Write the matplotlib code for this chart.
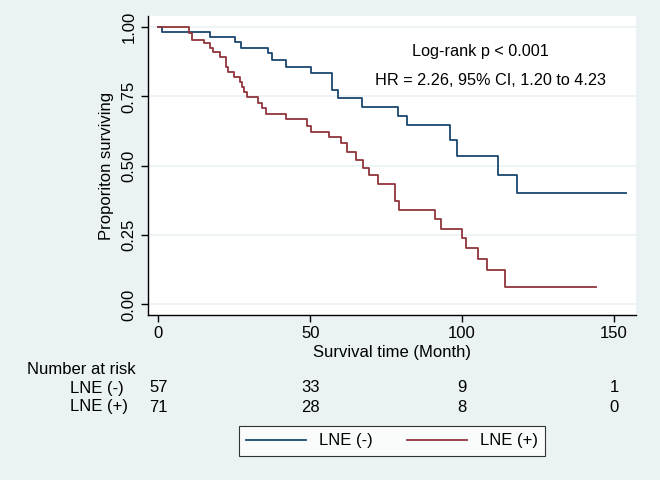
import numpy as np
import matplotlib
matplotlib.use("Agg")
import matplotlib.pyplot as plt

plt.rcParams['font.family'] = ['Liberation Sans', 'DejaVu Sans']

# ----Kaplan-Meier steps----
t_neg = [0, 1.2, 17.0, 25.3, 27.2, 36.2, 37.3, 42.1, 50.2, 57.1, 59.3, 67.0,
         79.0, 81.8, 96.0, 98.2, 111.9, 118.0, 153.9]
s_neg = [1.0, 0.982, 0.965, 0.945, 0.926, 0.905, 0.881, 0.857, 0.833, 0.773,
         0.746, 0.713, 0.680, 0.647, 0.594, 0.536, 0.468, 0.402, 0.402]

t_pos = [0, 10.1, 11.0, 15.2, 17.0, 18.1, 20.3, 22.3, 23.1, 25.0, 26.9, 27.5,
         28.3, 29.1, 32.9, 34.1, 35.4, 42.0, 48.9, 50.3, 56.2, 60.2, 62.0,
         65.2, 67.3, 69.3, 72.2, 78.0, 79.1, 91.1, 93.1, 100.1, 101.2, 105.1,
         108.1, 114.1, 144.0]
s_pos = [1.0, 0.977, 0.955, 0.941, 0.926, 0.909, 0.891, 0.857, 0.839, 0.821,
         0.803, 0.783, 0.767, 0.747, 0.728, 0.707, 0.688, 0.669, 0.645, 0.623,
         0.603, 0.582, 0.551, 0.522, 0.491, 0.465, 0.435, 0.374, 0.342, 0.309,
         0.273, 0.240, 0.205, 0.165, 0.123, 0.063, 0.063]

risk_times = [0, 50, 100, 150]
risk_neg = [57, 33, 9, 1]
risk_pos = [71, 28, 8, 0]

bg = "#eaf2f3"
blue = "#1a476f"
red = "#90353b"
fs = 12

fig = plt.figure(figsize=(6.6, 4.8), dpi=100, facecolor=bg)
ax = fig.add_axes([0.2242, 0.3438, 0.740, 0.6229])
ax.set_facecolor("white")

ax.step(t_neg, s_neg, where="post", color=blue, lw=1.3, label="LNE (-)")
ax.step(t_pos, s_pos, where="post", color=red, lw=1.3, label="LNE (+)")

ax.set_xlim(-3.4, 157.4)
ax.set_ylim(-0.038, 1.04)
ax.set_xticks([0, 50, 100, 150])
ax.set_yticks([0, 0.25, 0.5, 0.75, 1.0])
ax.set_yticklabels(["0.00", "0.25", "0.50", "0.75", "1.00"], rotation=90, va="center")
ax.grid(axis="y", color=bg, lw=1.2)
ax.set_axisbelow(True)
for side in ["top", "right"]:
    ax.spines[side].set_visible(False)
for side in ["left", "bottom"]:
    ax.spines[side].set_color("black")
    ax.spines[side].set_linewidth(1.0)
ax.tick_params(labelsize=fs, length=5, width=1, direction="out", pad=3)

ax.set_xlabel("Survival time (Month)", fontsize=fs, labelpad=3)
ax.set_ylabel("Proporiton surviving", fontsize=fs, labelpad=6)

ax.text(0.681, 0.88, "Log-rank p < 0.001", transform=ax.transAxes,
        ha="center", va="center", fontsize=11.7)
ax.text(0.701, 0.785, "HR = 2.26, 95% CI, 1.20 to 4.23", transform=ax.transAxes,
        ha="center", va="center", fontsize=11.7)

# ----Number at risk table----
trans = ax.get_xaxis_transform()
fig.text(27 / 660, 1 - 370 / 480, "Number at risk", fontsize=fs, va="center")
fig.text(124 / 660, 1 - 388 / 480, "LNE (-)", fontsize=fs, va="center", ha="right")
fig.text(128 / 660, 1 - 407 / 480, "LNE (+)", fontsize=fs, va="center", ha="right")
y_neg = (1 - 388 / 480 - 0.3438) / 0.6229
y_pos = (1 - 407 / 480 - 0.3438) / 0.6229
for t, n1, n2 in zip(risk_times, risk_neg, risk_pos):
    ax.text(t, y_neg, str(n1), transform=trans, ha="center", va="center",
            fontsize=fs, clip_on=False)
    ax.text(t, y_pos, str(n2), transform=trans, ha="center", va="center",
            fontsize=fs, clip_on=False)

leg = fig.legend(loc="center", bbox_to_anchor=(392 / 660, 1 - 441 / 480),
                 ncol=2, frameon=True, fancybox=False, fontsize=fs,
                 handlelength=3.6, columnspacing=2.0, handletextpad=0.8,
                 borderpad=0.45)
leg.get_frame().set_edgecolor("black")
leg.get_frame().set_linewidth(0.8)
leg.get_frame().set_facecolor("white")

fig.savefig("out.png", dpi=100, facecolor=bg)
